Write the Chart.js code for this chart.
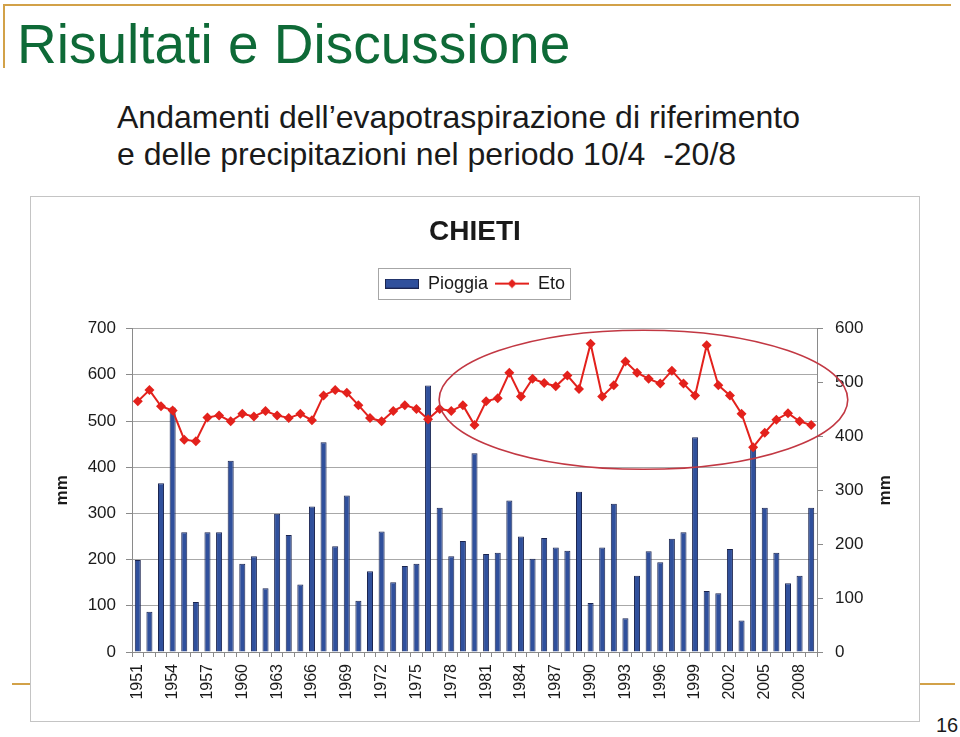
<!DOCTYPE html>
<html lang="it">
<head>
  <meta charset="UTF-8" />
  <title>Risultati e Discussione</title>
  <script src="https://cdn.jsdelivr.net/npm/chart.js"></script>
  <style>
    body {
      margin: 0;
      width: 960px;
      height: 737px;
      background: #fff;
      font-family: 'Liberation Sans', Arial, sans-serif;
      position: relative;
      overflow: hidden;
      color: #1a1a1a;
    }
    .gold { position: absolute; background: #d2a148; }
    .slide-title {
      position: absolute;
      left: 17px;
      top: 13px;
      font-size: 55px;
      line-height: 62px;
      color: #0e6a37;
      white-space: nowrap;
    }
    .subtitle {
      position: absolute;
      left: 117px;
      top: 99px;
      font-size: 32px;
      line-height: 37px;
      color: #1a1a1a;
      white-space: nowrap;
    }
    .chart-box {
      position: absolute;
      left: 30px;
      top: 196px;
      width: 888px;
      height: 524px;
      border: 1px solid #c4c4c4;
      background: #fff;
    }
    .page-num {
      position: absolute;
      left: 936px;
      top: 714px;
      font-size: 20px;
    }
  </style>
</head>
<body>
  <div class="gold" style="left:3px; top:4px; width:948px; height:2px;"></div>
  <div class="gold" style="left:3px; top:4px; width:2px; height:64px;"></div>
  <div class="gold" style="left:12px; top:683px; width:18px; height:2px;"></div>
  <div class="gold" style="left:918px; top:683px; width:37px; height:2px;"></div>

  <div class="slide-title">Risultati e Discussione</div>
  <div class="subtitle">Andamenti dell’evapotraspirazione di riferimento<br>e delle precipitazioni nel periodo 10/4&nbsp; -20/8</div>

  <div class="chart-box">
    <canvas id="chietiChart" width="888" height="524"></canvas>
  </div>
  <div class="page-num">16</div>

  <script>
  // anni 1951-2009
  const years = [
    '1951', '1952', '1953', '1954', '1955', '1956', '1957', '1958', '1959', '1960',
    '1961', '1962', '1963', '1964', '1965', '1966', '1967', '1968', '1969', '1970',
    '1971', '1972', '1973', '1974', '1975', '1976', '1977', '1978', '1979', '1980',
    '1981', '1982', '1983', '1984', '1985', '1986', '1987', '1988', '1989', '1990',
    '1991', '1992', '1993', '1994', '1995', '1996', '1997', '1998', '1999', '2000',
    '2001', '2002', '2003', '2004', '2005', '2006', '2007', '2008', '2009'
  ];

  // pioggia (mm, asse sinistro)
  const pioggia = [
    199, 87, 365, 529, 259, 108, 259, 259, 414, 191,
    207, 138, 299, 253, 146, 315, 454, 229, 339, 111,
    175, 261, 151, 186, 191, 577, 312, 207, 240, 430,
    212, 215, 328, 250, 202, 247, 226, 219, 347, 106,
    226, 321, 73, 165, 218, 194, 245, 259, 465, 132,
    127, 223, 68, 442, 312, 215, 149, 165, 312
  ];

  // Eto (mm, asse destro)
  const eto = [
    465, 486, 456, 448, 394, 391, 435, 439, 428, 442,
    437, 447, 439, 434, 442, 430, 476, 486, 481, 458,
    434, 428, 447, 458, 451, 432, 451, 447, 458, 421,
    465, 471, 518, 474, 507, 499, 493, 513, 488, 572,
    474, 495, 539, 518, 507, 498, 522, 498, 476, 569,
    495, 476, 442, 380, 407, 431, 443, 428, 421
  ];

  const leftTicks = [0, 100, 200, 300, 400, 500, 600, 700];
  const rightTicks = [0, 100, 200, 300, 400, 500, 600];

  // ellisse che evidenzia il periodo recente (in unita' di categoria / asse destro)
  const ellipse = { centerIndex: 43.55, centerValue: 468, halfCats: 17.6, halfValue: 129 };

  const BAR_COLOR = '#30509c';
  const BAR_BORDER = '#1b2550';
  const LINE_COLOR = '#e3211c';
  const AXIS_COLOR = '#8a8a8a';
  const GRID_COLOR = '#a8a8a8';
  const TEXT_COLOR = '#1a1a1a';

  // simboli per la legenda
  function legendBar() {
    const c = document.createElement('canvas');
    c.width = 34; c.height = 10;
    const g = c.getContext('2d');
    g.fillStyle = BAR_COLOR;
    g.fillRect(0.5, 0.5, 33, 9);
    g.strokeStyle = BAR_BORDER;
    g.lineWidth = 1;
    g.strokeRect(0.5, 0.5, 33, 9);
    return c;
  }
  function legendLine() {
    const c = document.createElement('canvas');
    c.width = 34; c.height = 10;
    const g = c.getContext('2d');
    g.strokeStyle = LINE_COLOR;
    g.lineWidth = 2;
    g.beginPath(); g.moveTo(0, 5); g.lineTo(34, 5); g.stroke();
    g.fillStyle = LINE_COLOR;
    g.beginPath();
    g.moveTo(17, 0.5); g.lineTo(21.5, 5); g.lineTo(17, 9.5); g.lineTo(12.5, 5);
    g.closePath(); g.fill();
    return c;
  }
  const legendIcons = [legendBar(), legendLine()];

  const extras = {
    id: 'extras',
    afterDraw(chart) {
      const ctx = chart.ctx;
      const area = chart.chartArea;

      // cornice della legenda
      const lg = chart.legend;
      if (lg && lg.legendHitBoxes.length) {
        const hb = lg.legendHitBoxes;
        const first = hb[0], last = hb[hb.length - 1];
        const cy = first.top + first.height / 2;
        ctx.save();
        ctx.strokeStyle = '#a6a6a6';
        ctx.lineWidth = 1;
        ctx.strokeRect(Math.round(first.left - 7) + 0.5, Math.round(cy - 16) + 0.5,
          Math.round(last.left + last.width - first.left + 12), 31);
        ctx.restore();
      }

      // titolo asse destro
      ctx.save();
      ctx.fillStyle = TEXT_COLOR;
      ctx.font = 'bold 17px "Liberation Sans", Arial, sans-serif';
      ctx.textAlign = 'center';
      ctx.textBaseline = 'middle';
      ctx.translate(854, (area.top + area.bottom) / 2);
      ctx.rotate(-Math.PI / 2);
      ctx.fillText('mm', 0, 0);
      ctx.restore();
    },
    afterDatasetsDraw(chart) {
      const x = chart.scales.x, y1 = chart.scales.y1;
      const cx = x.getPixelForValue(ellipse.centerIndex);
      const rx = x.getPixelForValue(ellipse.centerIndex + ellipse.halfCats) - cx;
      const cy = y1.getPixelForValue(ellipse.centerValue);
      const ry = y1.getPixelForValue(ellipse.centerValue - ellipse.halfValue) - cy;
      const ctx = chart.ctx;
      ctx.save();
      ctx.strokeStyle = '#c23843';
      ctx.lineWidth = 1.6;
      ctx.beginPath();
      ctx.ellipse(cx, cy, rx, ry, 0, 0, Math.PI * 2);
      ctx.stroke();
      ctx.restore();
    }
  };

  new Chart(document.getElementById('chietiChart'), {
    data: {
      labels: years,
      datasets: [
        {
          type: 'line',
          label: 'Eto',
          data: eto,
          yAxisID: 'y1',
          borderColor: LINE_COLOR,
          backgroundColor: LINE_COLOR,
          borderWidth: 2,
          tension: 0,
          pointStyle: 'rectRot',
          pointRadius: 5,
          pointBorderWidth: 0,
          order: 0
        },
        {
          type: 'bar',
          label: 'Pioggia',
          data: pioggia,
          yAxisID: 'y',
          backgroundColor: BAR_COLOR,
          borderColor: BAR_BORDER,
          borderWidth: 1,
          barPercentage: 0.52,
          categoryPercentage: 1.0,
          order: 1
        }
      ]
    },
    options: {
      responsive: false,
      animation: false,
      layout: { padding: 0 },
      plugins: {
        title: {
          display: true,
          text: 'CHIETI',
          color: TEXT_COLOR,
          font: { family: '"Liberation Sans", Arial, sans-serif', size: 28, weight: 'bold', lineHeight: 1.2 },
          padding: { top: 18, bottom: 19 }
        },
        subtitle: {
          display: true,
          text: '',
          font: { size: 10, lineHeight: 1.2 },
          padding: { top: 0, bottom: 14 },
          weight: 500
        },
        legend: {
          display: true,
          labels: {
            usePointStyle: true,
            pointStyleWidth: 34,
            padding: 7,
            color: TEXT_COLOR,
            font: { family: '"Liberation Sans", Arial, sans-serif', size: 18 },
            generateLabels(chart) {
              // Pioggia prima, poi Eto
              return [1, 0].map((di, k) => ({
                text: chart.data.datasets[di].label,
                datasetIndex: di,
                pointStyle: legendIcons[k],
                fillStyle: 'transparent',
                strokeStyle: 'transparent',
                lineWidth: 0,
                fontColor: TEXT_COLOR,
                hidden: false
              }));
            }
          }
        },
        tooltip: { enabled: false }
      },
      scales: {
        x: {
          type: 'category',
          offset: true,
          afterFit(scale) { scale.height = 69; },
          grid: {
            offset: true,
            drawOnChartArea: false,
            drawTicks: true,
            tickLength: 5,
            color: AXIS_COLOR
          },
          border: { color: AXIS_COLOR },
          ticks: {
            autoSkip: false,
            minRotation: 90,
            maxRotation: 90,
            padding: 7,
            color: TEXT_COLOR,
            font: { family: '"Liberation Sans", Arial, sans-serif', size: 16 },
            callback(value, index) { return index % 3 === 0 ? years[index] : ''; }
          }
        },
        y: {
          position: 'left',
          min: leftTicks[0],
          max: leftTicks[leftTicks.length - 1],
          afterFit(scale) { scale.width = 101; },
          afterBuildTicks(scale) { scale.ticks = leftTicks.map(v => ({ value: v })); },
          grid: {
            color: GRID_COLOR,
            drawTicks: true,
            tickLength: 6,
            tickColor: AXIS_COLOR
          },
          border: { color: AXIS_COLOR },
          title: {
            display: true,
            text: 'mm',
            color: TEXT_COLOR,
            font: { family: '"Liberation Sans", Arial, sans-serif', size: 17, weight: 'bold' },
            padding: { top: 21, bottom: 0 }
          },
          ticks: {
            padding: 10,
            color: TEXT_COLOR,
            font: { family: '"Liberation Sans", Arial, sans-serif', size: 17 }
          }
        },
        y1: {
          position: 'right',
          min: rightTicks[0],
          max: rightTicks[rightTicks.length - 1],
          afterFit(scale) { scale.width = 102; },
          afterBuildTicks(scale) { scale.ticks = rightTicks.map(v => ({ value: v })); },
          grid: {
            drawOnChartArea: false,
            drawTicks: true,
            tickLength: 6,
            color: AXIS_COLOR
          },
          border: { color: AXIS_COLOR },
          ticks: {
            padding: 12,
            color: TEXT_COLOR,
            font: { family: '"Liberation Sans", Arial, sans-serif', size: 17 }
          }
        }
      }
    },
    plugins: [extras]
  });
  </script>
</body>
</html>
